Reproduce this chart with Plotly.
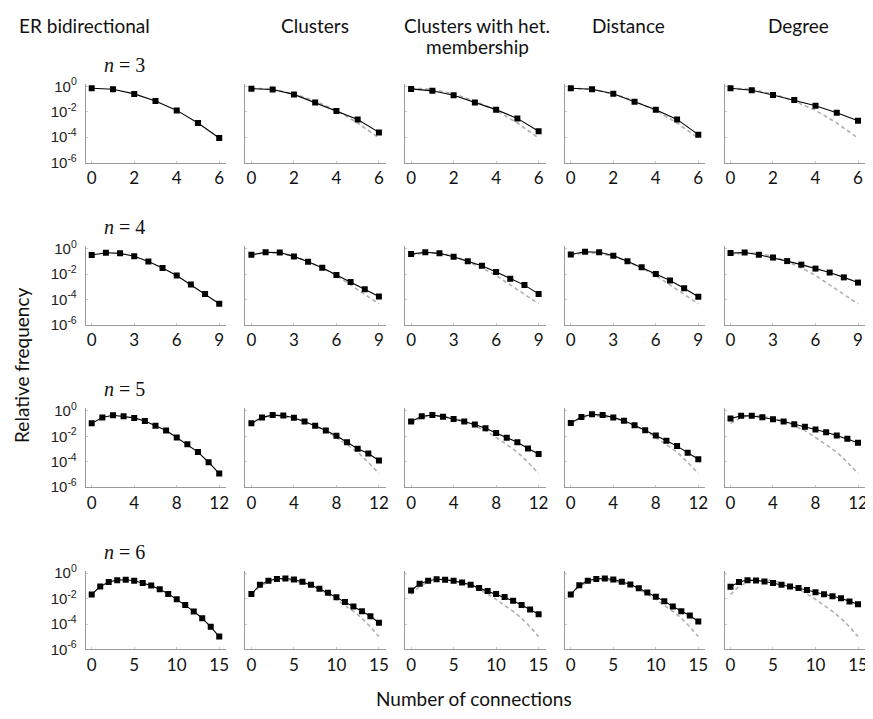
import plotly.graph_objects as go

# The page body adds an 8px margin, so the figure is drawn 8px smaller and
# every reference pixel position is shifted by OFF.
OFF = 8
W, H = 873 - OFF, 719 - OFF

# Triplet size per row and column (model) titles
N_VALUES = [3, 4, 5, 6]
MODELS = ["ER bidirectional", "Clusters", "Clusters with het.<br>membership", "Distance", "Degree"]
XTICKS = {3: [0, 2, 4, 6], 4: [0, 3, 6, 9], 5: [0, 4, 8, 12], 6: [0, 5, 10, 15]}
YTICK_VALS = [1, 1e-2, 1e-4, 1e-6]
YTICK_TEXT = ["10<sup>0</sup>", "10<sup>-2</sup>", "10<sup>-4</sup>", "10<sup>-6</sup>"]

# log10(relative frequency), index = number of connections
ER_LOG = {
    3: [-0.15, -0.23, -0.59, -1.15, -1.89, -2.88, -4.06],
    4: [-0.50, -0.32, -0.37, -0.60, -1.01, -1.52, -2.11, -2.83, -3.57, -4.34],
    5: [-0.98, -0.52, -0.34, -0.42, -0.55, -0.80, -1.16, -1.55, -2.09, -2.63, -3.24, -4.04, -4.93],
    6: [-1.68, -1.04, -0.70, -0.55, -0.52, -0.60, -0.78, -0.98, -1.27, -1.63, -2.06, -2.50, -3.01, -3.55, -4.22, -4.99],
}
CLUSTERS_LOG = {
    3: [-0.18, -0.25, -0.63, -1.27, -1.94, -2.60, -3.62],
    4: [-0.49, -0.28, -0.31, -0.61, -1.03, -1.50, -2.07, -2.63, -3.20, -3.76],
    5: [-0.98, -0.51, -0.33, -0.36, -0.54, -0.83, -1.16, -1.55, -1.96, -2.47, -2.98, -3.36, -3.90],
    6: [-1.64, -0.92, -0.60, -0.45, -0.42, -0.50, -0.68, -0.92, -1.22, -1.55, -1.90, -2.26, -2.62, -3.00, -3.39, -3.90],
}
HET_LOG = {
    3: [-0.20, -0.35, -0.70, -1.27, -1.83, -2.52, -3.53],
    4: [-0.43, -0.28, -0.37, -0.64, -1.00, -1.35, -1.83, -2.37, -2.87, -3.56],
    5: [-0.83, -0.42, -0.33, -0.45, -0.63, -0.83, -1.07, -1.37, -1.73, -2.11, -2.47, -2.95, -3.39],
    6: [-1.37, -0.83, -0.60, -0.48, -0.51, -0.60, -0.74, -0.92, -1.16, -1.40, -1.64, -1.88, -2.17, -2.50, -2.86, -3.24],
}
DISTANCE_LOG = {
    3: [-0.15, -0.22, -0.58, -1.20, -1.83, -2.60, -3.80],
    4: [-0.46, -0.25, -0.28, -0.55, -1.00, -1.47, -2.00, -2.51, -3.11, -3.79],
    5: [-0.95, -0.48, -0.27, -0.33, -0.51, -0.77, -1.13, -1.52, -1.93, -2.35, -2.77, -3.30, -3.81],
    6: [-1.67, -0.95, -0.60, -0.45, -0.42, -0.50, -0.68, -0.89, -1.19, -1.52, -1.85, -2.20, -2.62, -3.00, -3.33, -3.81],
}
DEGREE_LOG = {
    3: [-0.15, -0.30, -0.68, -1.08, -1.53, -2.08, -2.70],
    4: [-0.35, -0.30, -0.48, -0.70, -0.98, -1.26, -1.57, -1.88, -2.26, -2.67],
    5: [-0.60, -0.39, -0.39, -0.50, -0.65, -0.83, -1.04, -1.24, -1.47, -1.68, -1.94, -2.19, -2.50],
    6: [-1.06, -0.70, -0.55, -0.57, -0.65, -0.78, -0.91, -1.04, -1.16, -1.32, -1.50, -1.66, -1.81, -1.97, -2.22, -2.45],
}
MODEL_DATA = [ER_LOG, CLUSTERS_LOG, HET_LOG, DISTANCE_LOG, DEGREE_LOG]


def px_x(x):
    return (x - OFF) / W


def px_y(y):
    return 1 - (y - OFF) / H


fig = go.Figure()
layout = {}
AX_COLOR = "#9a9a9a"
TICK_FONT = dict(family="Lato, Open Sans, sans-serif", size=17, color="#111")

for r, n in enumerate(N_VALUES):
    m = len(ER_LOG[n]) - 1          # max number of connections
    k = list(range(m + 1))
    top_px = 77.4 + 166 * r
    bot_px = 158 + 166 * r
    for c in range(5):
        idx = r * 5 + c + 1
        xs = "x" if idx == 1 else f"x{idx}"
        ys = "y" if idx == 1 else f"y{idx}"
        xk = "xaxis" if idx == 1 else f"xaxis{idx}"
        yk = "yaxis" if idx == 1 else f"yaxis{idx}"
        left_px = 86 + 160.25 * c
        right_px = 227 + 160.25 * c
        if c > 0:
            fig.add_trace(go.Scatter(
                x=k, y=[10 ** v for v in ER_LOG[n]], mode="lines",
                line=dict(color="#b0b0b0", width=1.6, dash="4px,3px"),
                xaxis=xs, yaxis=ys, showlegend=False, hoverinfo="skip"))
        fig.add_trace(go.Scatter(
            x=k, y=[10 ** v for v in MODEL_DATA[c][n]], mode="lines+markers",
            line=dict(color="black", width=1.1),
            marker=dict(symbol="square", size=6, color="black"),
            xaxis=xs, yaxis=ys, showlegend=False))
        layout[xk] = dict(
            domain=[px_x(left_px), px_x(right_px)], anchor=ys,
            range=[-0.047 * m, 1.055 * m], tickvals=XTICKS[n],
            showline=True, linecolor=AX_COLOR, linewidth=1,
            ticks="inside", ticklen=2, tickcolor="#c8c8c8",
            showgrid=False, zeroline=False, tickfont=TICK_FONT,
            ticklabelstandoff=0)
        layout[yk] = dict(
            domain=[px_y(bot_px), px_y(top_px)], anchor=xs,
            type="log", range=[-6, 0.2],
            tickvals=YTICK_VALS, ticktext=YTICK_TEXT,
            showticklabels=(c == 0),
            showline=True, linecolor=AX_COLOR, linewidth=1,
            ticks="inside", ticklen=2, tickcolor="#c8c8c8",
            showgrid=False, zeroline=False,
            tickfont=dict(family="Liberation Sans, Arial, sans-serif", size=15, color="#222"),
            ticklabelstandoff=5)

annotations = []
TITLE_FONT = dict(family="Lato, Open Sans, sans-serif", size=19, color="#111")
# column titles: (text, x centre px, y centre px)
TITLES = [("ER bidirectional", 85, 18), ("Clusters", 316, 18), ("Clusters with het.", 479, 18),
          ("membership", 479, 39), ("Distance", 631, 18), ("Degree", 801, 18)]
for t, x, y in TITLES:
    annotations.append(dict(text=t, x=px_x(x), y=px_y(y), xref="paper", yref="paper",
                            xanchor="center", yanchor="middle", showarrow=False, font=TITLE_FONT))
for r, n in enumerate(N_VALUES):
    annotations.append(dict(text=f"<i>n</i> = {n}", x=px_x(125), y=px_y(58 + 166 * r),
                            xref="paper", yref="paper", xanchor="center", yanchor="middle",
                            showarrow=False,
                            font=dict(family="Liberation Serif, DejaVu Serif, serif", size=20, color="#111")))
annotations.append(dict(text="Relative frequency", x=px_x(22), y=px_y(365), xref="paper", yref="paper",
                        xanchor="center", yanchor="middle", textangle=-90, showarrow=False, font=TITLE_FONT))
annotations.append(dict(text="Number of connections", x=px_x(476), y=px_y(706), xref="paper", yref="paper",
                        xanchor="center", yanchor="middle", showarrow=False, font=TITLE_FONT))

fig.update_layout(
    width=W, height=H, margin=dict(l=0, r=0, t=0, b=0),
    paper_bgcolor="white", plot_bgcolor="white",
    annotations=annotations, showlegend=False, **layout)

fig.write_html("out.html")
